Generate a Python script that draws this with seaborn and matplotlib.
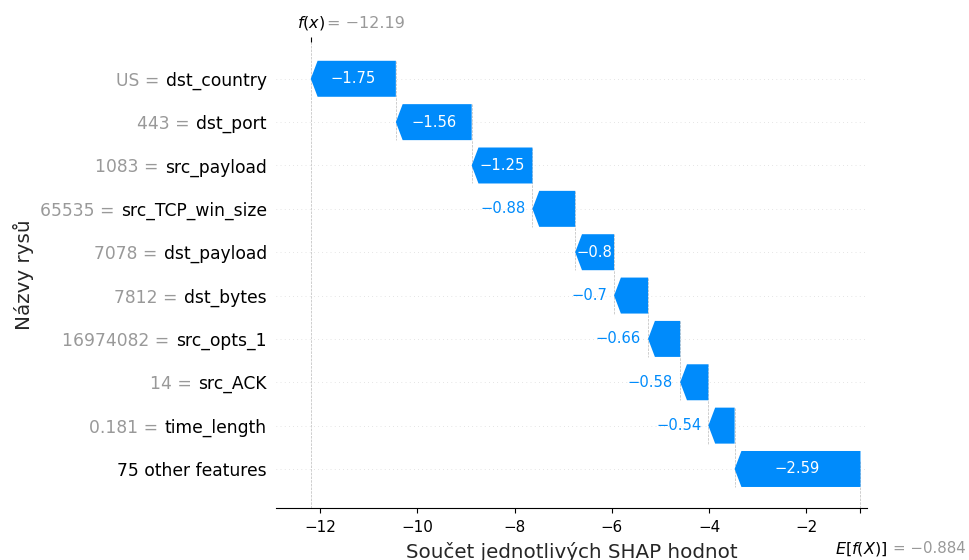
import matplotlib
matplotlib.use("Agg")
import matplotlib.pyplot as plt
from matplotlib.patches import FancyArrow
import seaborn as sns

# Feature contributions, listed from the top row to the bottom row
features = ["dst_country", "dst_port", "src_payload", "src_TCP_win_size", "dst_payload",
            "dst_bytes", "src_opts_1", "src_ACK", "time_length", "75 other features"]
feature_values = ["US", "443", "1083", "65535", "7078", "7812", "16974082", "14", "0.181", ""]
shap_values = [-1.75, -1.56, -1.25, -0.88, -0.8, -0.7, -0.66, -0.58, -0.54, -2.59]
base_value = -0.884
x_ticks = [-12, -10, -8, -6, -4, -2]

x_label = "Součet jednotlivých SHAP hodnot"
y_label = "Názvy rysů"

BLUE = "#008bfb"
GRAY = "#999999"

sns.set_theme(style="ticks")
plt.rcParams["font.family"] = ["DejaVu Sans"]
plt.rcParams["text.color"] = "black"
plt.rcParams["xtick.color"] = "black"
plt.rcParams["axes.edgecolor"] = "black"

n = len(features)
fx = base_value + sum(shap_values)

fig = plt.figure(figsize=(9.69, 5.6), dpi=100)
W, H = 969, 560
ax_left_px = 276
ax = fig.add_axes([ax_left_px / W, 1 - 508 / H, (867 - ax_left_px) / W, (508 - 41.5) / H])
ax.set_xlim(-12.91, -0.75)
ax.set_ylim(-0.9, n - 1 + 0.86)

ys = [n - 1 - i for i in range(n)]

# cumulative start of each arrow, accumulated from the bottom row upward
starts = [0.0] * n
pos = base_value
for i in reversed(range(n)):
    starts[i] = pos
    pos += shap_values[i]

bar_h = 0.83
head_len = 0.14

# dotted row guides
for y in ys:
    ax.axhline(y, color="#cccccc", lw=0.5, dashes=(1, 5), zorder=-1)

# dashed connectors between consecutive arrows
for i in range(n - 1):
    x0 = starts[i]
    ax.plot([x0, x0], [ys[i] + bar_h / 2, ys[i] - 1 - bar_h / 2],
            color="#bbbbbb", ls="--", lw=0.5, zorder=-1)
ax.axvline(fx, 0, 1, color="#bbbbbb", ls="--", lw=0.5, zorder=-1)
ax.axvline(base_value, 0, 1 / n, color="#bbbbbb", ls="--", lw=0.5, zorder=-1)

for i in range(n):
    v = shap_values[i]
    ax.add_patch(FancyArrow(starts[i], ys[i], v, 0, width=bar_h, head_width=bar_h,
                            head_length=min(head_len, abs(v)), length_includes_head=True,
                            color=BLUE, lw=0))


def fmt(v, nd=2):
    s = f"{v:.{nd}f}".rstrip("0").rstrip(".")
    return s.replace("-", "\u2212")


# y tick labels (feature names)
ax.set_yticks(ys)
ax.set_yticklabels(features, fontsize=12.3, color="black")
ax.tick_params(axis="y", which="both", length=0, pad=6.7)

ax.set_xticks(x_ticks)
ax.tick_params(axis="x", which="major", labelsize=10.9, length=3.6, width=0.8,
               direction="out", pad=5)
ax.set_xticks([base_value], minor=True)
ax.tick_params(axis="x", which="minor", length=3.6, width=0.8, direction="out",
               labelbottom=False)

sns.despine(ax=ax, left=True, top=True, right=True)
ax.spines["bottom"].set_linewidth(0.8)

ax.set_xlabel(x_label, fontsize=14.3)
ax.xaxis.set_label_coords(0.5, -0.072)
ax.set_ylabel(y_label, fontsize=14.3)
ax.yaxis.set_label_coords(-0.41, 0.5)

fig.canvas.draw()
renderer = fig.canvas.get_renderer()

# value labels: inside the arrow when they fit, otherwise to its left
for i in range(n):
    v = shap_values[i]
    mid = starts[i] + v / 2
    txt = ax.text(mid, ys[i], fmt(v), ha="center", va="center", color="white", fontsize=10.6)
    tw = txt.get_window_extent(renderer).width
    p0 = ax.transData.transform((starts[i], ys[i]))[0]
    p1 = ax.transData.transform((starts[i] + v, ys[i]))[0]
    if tw >= abs(p1 - p0):
        txt.remove()
        ax.annotate(fmt(v), (starts[i] + v, ys[i]), xytext=(-7, 0), textcoords="offset pixels",
                    ha="right", va="center", color=BLUE, fontsize=10.6)

# grey "value =" prefix in front of each feature name, sharing its baseline
for lbl, val, y in zip(ax.get_yticklabels(), feature_values, ys):
    if not val:
        continue
    bb = lbl.get_window_extent(renderer)
    ax.annotate(f"{val} =", (0, y), xycoords=("axes fraction", "data"),
                xytext=(bb.x0 - 6.4 - ax_left_px, 0), textcoords="offset pixels",
                ha="right", va="center_baseline", fontsize=12.3, color=GRAY,
                annotation_clip=False)

# top tick marking f(x)
ax2 = ax.twiny()
ax2.set_xlim(ax.get_xlim())
ax2.set_xticks([fx])
ax2.set_xticklabels([])
ax2.tick_params(axis="x", length=3.6, width=0.8, direction="out", color="black")
for s in ax2.spines.values():
    s.set_visible(False)

ax.annotate("$f(x)$", (fx, 1), xycoords=("data", "axes fraction"), xytext=(0, 14),
            textcoords="offset pixels", ha="center", va="baseline", fontsize=11.5, color="black")
ax.annotate("= " + fmt(round(fx, 2)), (fx, 1), xycoords=("data", "axes fraction"),
            xytext=(16, 14), textcoords="offset pixels", ha="left", va="baseline",
            fontsize=11.5, color=GRAY)
ax.annotate("$E[f(X)]$", (base_value, 0), xycoords=("data", "axes fraction"), xytext=(1, -45),
            textcoords="offset pixels", ha="center", va="baseline", fontsize=11.5, color="black")
ax.annotate("= " + fmt(base_value, 3), (base_value, 0), xycoords=("data", "axes fraction"),
            xytext=(33, -45), textcoords="offset pixels", ha="left", va="baseline",
            fontsize=10.8, color=GRAY)

fig.savefig("out.png", dpi=100)
